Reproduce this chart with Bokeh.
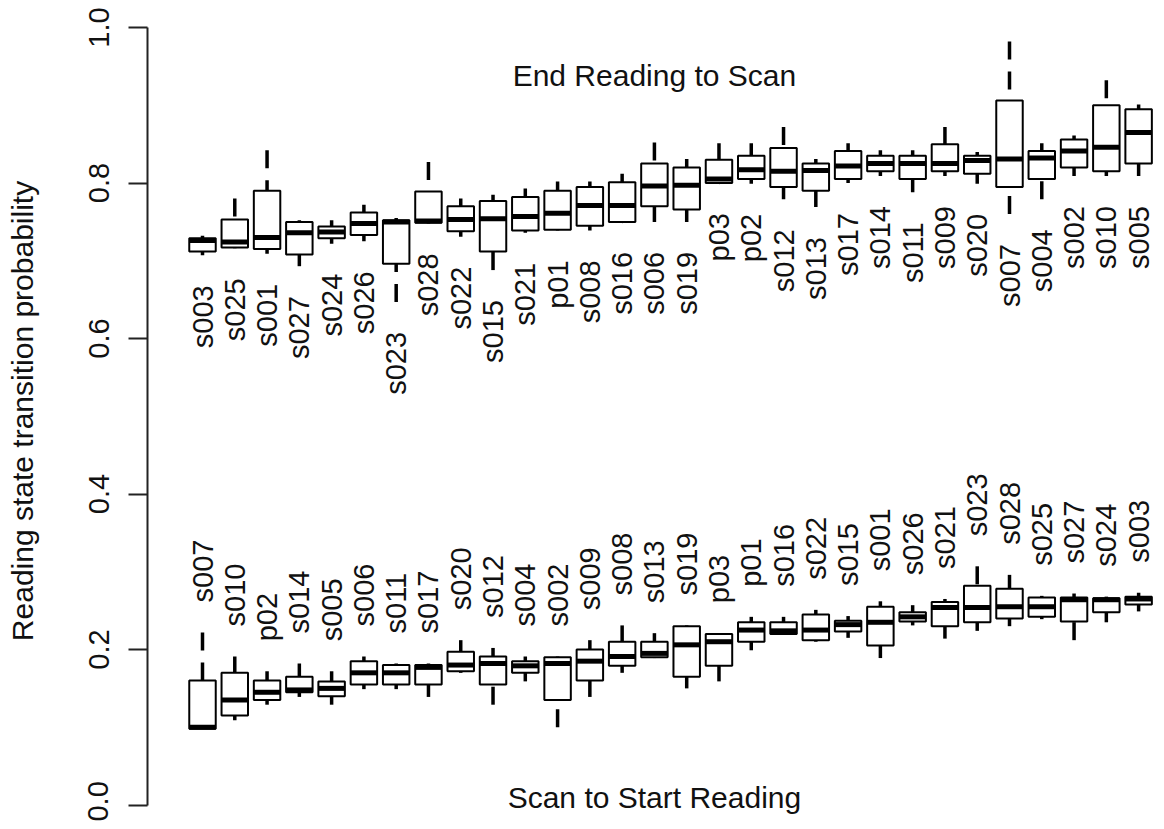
import numpy as np
from bokeh.plotting import figure
from bokeh.models import ColumnDataSource, FixedTicker, PrintfTickFormatter, Range1d
from bokeh.embed import file_html
from bokeh.resources import INLINE
from bokeh.core.properties import value

# ---------------- data ----------------
top_title = "End Reading to Scan"
bottom_title = "Scan to Start Reading"
y_label = "Reading state transition probability"
y_ticks = [0.0, 0.2, 0.4, 0.6, 0.8, 1.0]

top_labels = ["s003", "s025", "s001", "s027", "s024", "s026", "s023", "s028", "s022", "s015",
              "s021", "p01", "s008", "s016", "s006", "s019", "p03", "p02", "s012", "s013",
              "s017", "s014", "s011", "s009", "s020", "s007", "s004", "s002", "s010", "s005"]
top_lo  = [0.707, 0.716, 0.709, 0.693, 0.722, 0.725, 0.647, 0.748, 0.731, 0.688,
           0.736, 0.739, 0.739, 0.750, 0.750, 0.750, 0.800, 0.799, 0.779, 0.769,
           0.800, 0.809, 0.788, 0.809, 0.799, 0.760, 0.779, 0.809, 0.809, 0.809]
top_q1  = [0.712, 0.717, 0.715, 0.708, 0.729, 0.733, 0.696, 0.749, 0.738, 0.712,
           0.739, 0.740, 0.745, 0.750, 0.770, 0.766, 0.800, 0.805, 0.795, 0.790,
           0.805, 0.815, 0.805, 0.815, 0.812, 0.795, 0.805, 0.820, 0.815, 0.825]
top_med = [0.726, 0.724, 0.730, 0.736, 0.737, 0.748, 0.750, 0.751, 0.753, 0.754,
           0.757, 0.761, 0.771, 0.771, 0.796, 0.797, 0.805, 0.817, 0.815, 0.816,
           0.822, 0.825, 0.825, 0.825, 0.829, 0.831, 0.832, 0.841, 0.846, 0.865]
top_q3  = [0.729, 0.753, 0.790, 0.750, 0.744, 0.762, 0.752, 0.789, 0.770, 0.777,
           0.782, 0.790, 0.795, 0.801, 0.825, 0.820, 0.830, 0.835, 0.845, 0.825,
           0.841, 0.835, 0.835, 0.850, 0.835, 0.906, 0.841, 0.856, 0.900, 0.895]
top_hi  = [0.732, 0.780, 0.842, 0.752, 0.752, 0.772, 0.755, 0.827, 0.780, 0.785,
           0.793, 0.802, 0.802, 0.812, 0.852, 0.831, 0.851, 0.851, 0.872, 0.831,
           0.851, 0.842, 0.842, 0.872, 0.840, 0.982, 0.851, 0.861, 0.932, 0.901]

bottom_labels = ["s007", "s010", "p02", "s014", "s005", "s006", "s011", "s017", "s020", "s012",
                 "s004", "s002", "s009", "s008", "s013", "s019", "p03", "p01", "s016", "s022",
                 "s015", "s001", "s026", "s021", "s023", "s028", "s025", "s027", "s024", "s003"]
bottom_lo  = [0.098, 0.109, 0.129, 0.139, 0.129, 0.149, 0.149, 0.139, 0.170, 0.129,
              0.159, 0.100, 0.139, 0.170, 0.189, 0.150, 0.159, 0.199, 0.219, 0.210,
              0.215, 0.189, 0.231, 0.214, 0.224, 0.230, 0.239, 0.212, 0.235, 0.249]
bottom_q1  = [0.098, 0.115, 0.135, 0.145, 0.140, 0.155, 0.155, 0.155, 0.172, 0.155,
              0.170, 0.135, 0.160, 0.179, 0.190, 0.165, 0.179, 0.210, 0.220, 0.212,
              0.223, 0.205, 0.236, 0.230, 0.235, 0.240, 0.242, 0.236, 0.248, 0.258]
bottom_med = [0.100, 0.135, 0.145, 0.148, 0.150, 0.170, 0.170, 0.177, 0.180, 0.182,
              0.179, 0.182, 0.185, 0.191, 0.195, 0.206, 0.210, 0.225, 0.224, 0.225,
              0.232, 0.235, 0.242, 0.254, 0.254, 0.255, 0.255, 0.264, 0.264, 0.265]
bottom_q3  = [0.160, 0.170, 0.160, 0.165, 0.159, 0.185, 0.180, 0.180, 0.197, 0.191,
              0.185, 0.190, 0.200, 0.210, 0.210, 0.230, 0.220, 0.235, 0.235, 0.245,
              0.237, 0.255, 0.248, 0.261, 0.282, 0.278, 0.267, 0.267, 0.266, 0.268]
bottom_hi  = [0.222, 0.191, 0.172, 0.182, 0.172, 0.191, 0.182, 0.182, 0.212, 0.202,
              0.191, 0.191, 0.212, 0.231, 0.221, 0.231, 0.221, 0.242, 0.242, 0.251,
              0.243, 0.262, 0.257, 0.265, 0.307, 0.296, 0.269, 0.272, 0.268, 0.273]

# ---------------- figure ----------------
FONT = "Liberation Sans"
W, H = 1156, 821
PX_X = 32.28          # pixels per box slot
PX_Y = 777.5          # pixels per unit of probability
X1_PX = 202           # pixel of slot 1
Y0_PX = 804.5         # pixel of probability 0
LEFT = 147            # frame left edge (axis line)
x0 = 1 + (LEFT - X1_PX) / PX_X
x1 = 1 + (W - X1_PX) / PX_X
y0 = (Y0_PX - H) / PX_Y
y1 = Y0_PX / PX_Y

p = figure(width=W, height=H, output_backend="svg", toolbar_location=None,
           x_range=Range1d(x0, x1), y_range=Range1d(y0, y1),
           x_axis_type=None, min_border_left=LEFT, min_border_right=0,
           min_border_top=0, min_border_bottom=0)
p.outline_line_color = None
p.ygrid.grid_line_color = None
p.background_fill_color = "white"
p.border_fill_color = "white"

ax = p.yaxis[0]
ax.bounds = (0, 1)
ax.ticker = FixedTicker(ticks=y_ticks)
ax.formatter = PrintfTickFormatter(format="%.1f")
ax.major_tick_out = 19
ax.major_tick_in = 0
ax.minor_tick_out = 0
ax.minor_tick_in = 0
ax.axis_line_width = 2
ax.major_tick_line_width = 2
ax.axis_line_color = "#222222"
ax.major_tick_line_color = "#222222"
ax.major_label_orientation = "vertical"
ax.major_label_text_font = FONT
ax.major_label_text_font_size = "29px"
ax.major_label_text_color = "#111111"
ax.major_label_standoff = 20
ax.axis_label = y_label
ax.axis_label_text_font = FONT
ax.axis_label_text_font_size = "30px"
ax.axis_label_text_font_style = "normal"
ax.axis_label_text_color = "#111111"
ax.axis_label_standoff = 47

BW = 0.41
OFF = 30 / PX_Y


def draw_group(labels, lo, q1, med, q3, hi, below):
    x = np.arange(1, len(labels) + 1, dtype=float)
    lo, q1, med, q3, hi = map(np.asarray, (lo, q1, med, q3, hi))
    ty = lo - OFF if below else hi + OFF
    src = ColumnDataSource(dict(x=x, left=x - BW, right=x + BW, lo=lo, q1=q1,
                                med=med, q3=q3, hi=hi, ty=ty, name=labels))
    p.segment(x0="x", y0="hi", x1="x", y1="q3", source=src, line_color="black",
              line_width=3.5, line_dash="18 12", line_cap="butt")
    p.segment(x0="x", y0="lo", x1="x", y1="q1", source=src, line_color="black",
              line_width=3.5, line_dash="18 12", line_cap="butt")
    p.quad(left="left", right="right", bottom="q1", top="q3", source=src,
           fill_color="white", line_color="black", line_width=2)
    p.segment(x0="left", y0="med", x1="right", y1="med", source=src,
              line_color="black", line_width=5, line_cap="butt")
    p.text(x="x", y="ty", text="name", source=src, angle=np.pi / 2,
           text_align="right" if below else "left", text_baseline="middle",
           text_font=value(FONT), text_font_size="29px", text_color="#111111")


draw_group(top_labels, top_lo, top_q1, top_med, top_q3, top_hi, below=True)
draw_group(bottom_labels, bottom_lo, bottom_q1, bottom_med, bottom_q3, bottom_hi, below=False)

p.text(x=[15], y=[0.9385], text=[top_title], text_align="center", text_baseline="alphabetic",
       text_font=value(FONT), text_font_size="30px", text_color="#111111")
p.text(x=[15], y=[0.010], text=[bottom_title], text_align="center", text_baseline="alphabetic",
       text_font=value(FONT), text_font_size="30px", text_color="#111111")

open("out.html", "w").write(file_html(p, INLINE))
